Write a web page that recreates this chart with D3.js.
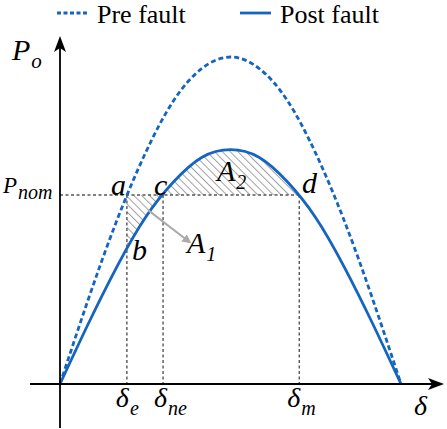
<!DOCTYPE html>
<html>
<head>
<meta charset="utf-8">
<script src="https://cdn.jsdelivr.net/npm/d3@7"></script>
<style>
  body { margin: 0; background: #fff; }
  svg { display: block; }
  text { font-family: "Liberation Serif", "Times New Roman", Times, "DejaVu Serif", "Noto Serif", FreeSerif, "Nimbus Roman", serif; }
</style>
</head>
<body>
<svg id="chart" width="447" height="429"></svg>
<script>
// power angle samples (deg) and power values
const deltas = [0, 15, 30, 45, 60, 75, 90, 105, 120, 135, 150, 165, 180];
const preFault = [0, 0.45, 0.865, 1.22, 1.50, 1.67, 1.73, 1.67, 1.50, 1.22, 0.865, 0.45, 0];
const postFault = [0, 0.32, 0.62, 0.88, 1.07, 1.20, 1.24, 1.20, 1.07, 0.88, 0.62, 0.32, 0];

const pNom = 1.0;
const deltaE = 35.3;
const deltaNe = 54.4;
const deltaM = 126.3;

const seriesNames = ["Pre fault", "Post fault"];

const blue = "#1565c0";
const svg = d3.select("#chart");

const x = d3.scaleLinear().domain([0, 180]).range([60, 401]);
const y = d3.scaleLinear().domain([0, 1.73]).range([384, 57]);

const preData = deltas.map((d, i) => ({ d: d, p: preFault[i] }));
const postData = deltas.map((d, i) => ({ d: d, p: postFault[i] }));

const defs = svg.append("defs");

// hatch pattern
defs.append("pattern")
    .attr("id", "hatch")
    .attr("patternUnits", "userSpaceOnUse")
    .attr("width", 5.5)
    .attr("height", 5.5)
    .attr("patternTransform", "rotate(-45)")
    .append("line")
    .attr("x1", 0).attr("y1", 0).attr("x2", 0).attr("y2", 5.5)
    .attr("stroke", "#a0a0a0")
    .attr("stroke-width", 2);

defs.append("marker")
    .attr("id", "grayArrow")
    .attr("viewBox", "0 0 10 10")
    .attr("refX", 8).attr("refY", 5)
    .attr("markerWidth", 4.5).attr("markerHeight", 4.5)
    .attr("markerUnits", "strokeWidth")
    .attr("orient", "auto")
    .append("path")
    .attr("d", "M0,0 L10,5 L0,10 z")
    .attr("fill", "#aaa");

// clip regions for A1 and A2
defs.append("clipPath").attr("id", "clipA1")
    .append("rect")
    .attr("x", x(deltaE)).attr("width", x(deltaNe) - x(deltaE))
    .attr("y", y(pNom)).attr("height", y(0) - y(pNom));

defs.append("clipPath").attr("id", "clipA2")
    .append("rect")
    .attr("x", x(deltaNe)).attr("width", x(deltaM) - x(deltaNe))
    .attr("y", 0).attr("height", y(pNom));

const areaAbove = d3.area()
    .x(d => x(d.d))
    .y0(d => y(d.p))
    .y1(0)
    .curve(d3.curveNatural);

const areaBelow = d3.area()
    .x(d => x(d.d))
    .y0(y(0))
    .y1(d => y(d.p))
    .curve(d3.curveNatural);

svg.append("path")
    .datum(postData)
    .attr("d", areaAbove)
    .attr("fill", "url(#hatch)")
    .attr("clip-path", "url(#clipA1)");

svg.append("path")
    .datum(postData)
    .attr("d", areaBelow)
    .attr("fill", "url(#hatch)")
    .attr("clip-path", "url(#clipA2)");

// dashed guide lines
const guide = (x1, y1, x2, y2) => {
    svg.append("line")
        .attr("x1", x1).attr("y1", y1).attr("x2", x2).attr("y2", y2)
        .attr("stroke", "#555")
        .attr("stroke-width", 1.4)
        .attr("stroke-dasharray", "3,2.5");
};
guide(x(0), y(pNom), x(deltaM), y(pNom));
guide(x(deltaE), y(pNom), x(deltaE), y(0));
guide(x(deltaNe), y(pNom), x(deltaNe), y(0));
guide(x(deltaM), y(pNom), x(deltaM), y(0));

// curves
const line = d3.line()
    .x(d => x(d.d))
    .y(d => y(d.p))
    .curve(d3.curveNatural);

svg.append("path")
    .datum(preData)
    .attr("d", line)
    .attr("fill", "none")
    .attr("stroke", blue)
    .attr("stroke-width", 2.8)
    .attr("stroke-dasharray", "5,3");

svg.append("path")
    .datum(postData)
    .attr("d", line)
    .attr("fill", "none")
    .attr("stroke", blue)
    .attr("stroke-width", 2.8);

// axes with arrow heads
svg.append("line")
    .attr("x1", 30).attr("y1", y(0)).attr("x2", 436).attr("y2", y(0))
    .attr("stroke", "#000").attr("stroke-width", 1.8);
svg.append("path")
    .attr("d", `M444,${y(0)} L428,${y(0) - 6} L432,${y(0)} L428,${y(0) + 6} Z`)
    .attr("fill", "#000");

svg.append("line")
    .attr("x1", x(0)).attr("y1", 428).attr("x2", x(0)).attr("y2", 44)
    .attr("stroke", "#000").attr("stroke-width", 1.8);
svg.append("path")
    .attr("d", `M${x(0)},36 L${x(0) - 6},52 L${x(0)},48 L${x(0) + 6},52 Z`)
    .attr("fill", "#000");

// annotation arrow to A1
svg.append("line")
    .attr("x1", x(46.5)).attr("y1", y(0.92))
    .attr("x2", x(68.5)).attr("y2", y(0.75))
    .attr("stroke", "#aaa")
    .attr("stroke-width", 2)
    .attr("marker-end", "url(#grayArrow)");

// math labels
const label = (tx, ty, main, sub, size, subSize) => {
    const t = svg.append("text")
        .attr("x", tx).attr("y", ty)
        .attr("font-style", "italic")
        .attr("font-size", size)
        .attr("fill", "#000");
    t.append("tspan").text(main);
    if (sub) {
        t.append("tspan")
            .attr("dy", size * 0.28)
            .attr("dx", 1)
            .attr("font-size", subSize)
            .text(sub);
    }
};

label(12, 60, "P", "o", 30, 21);
label(3, 193, "P", "nom", 23, 20);
label(111, 195, "a", null, 30);
label(154, 195, "c", null, 30);
label(302, 193, "d", null, 30);
label(132, 260, "b", null, 30);
label(187, 253, "A", "1", 30, 20);
label(217, 181, "A", "2", 30, 20);
label(x(deltaE) - 11, 407, "δ", "e", 28, 20);
label(x(deltaNe) - 9, 407, "δ", "ne", 28, 20);
label(x(deltaM) - 12, 407, "δ", "m", 28, 20);
label(414, 415, "δ", null, 28);

// legend
const legend = svg.append("g").attr("font-size", 26);
const legendX = [57, 240];
seriesNames.forEach((name, i) => {
    legend.append("line")
        .attr("x1", legendX[i]).attr("x2", legendX[i] + 31)
        .attr("y1", 13).attr("y2", 13)
        .attr("stroke", blue)
        .attr("stroke-width", 2.8)
        .attr("stroke-dasharray", i === 0 ? "4,2.5" : null);
    legend.append("text")
        .attr("x", legendX[i] + 40)
        .attr("y", 23)
        .text(name);
});
</script>
</body>
</html>
